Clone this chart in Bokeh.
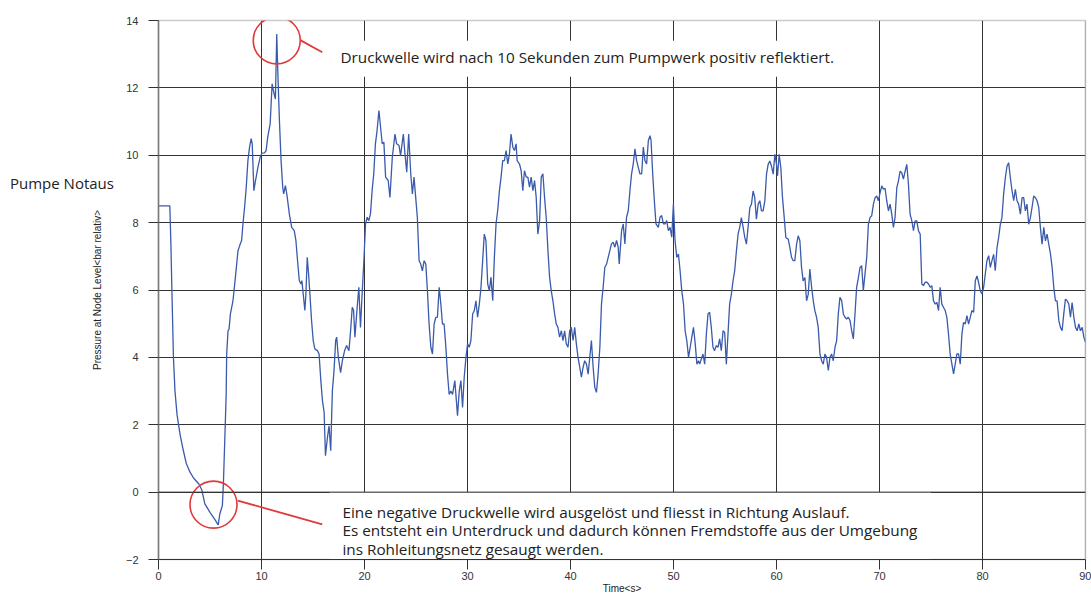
from bokeh.plotting import figure
from bokeh.models import Range1d, FixedTicker, Label, Span, Div
from bokeh.layouts import row
from bokeh.embed import file_html
from bokeh.resources import INLINE

# ---- data ----
time_s = [0, 1.1, 1.2, 1.3, 1.45, 1.6, 1.8, 2.1, 2.4, 2.7, 3.05, 3.4, 3.9, 4.2, 4.5, 5.0, 5.45, 5.8, 5.95,
          6.2, 6.3, 6.45, 6.57, 6.62, 6.75, 6.85, 6.98, 7.23, 7.4, 7.56, 7.72, 7.94, 8.07, 8.2, 8.36, 8.52,
          8.68, 8.84, 9.0, 9.1, 9.26, 9.42, 9.65, 9.87, 10.03, 10.29, 10.45, 10.6, 10.84, 11.03, 11.19,
          11.35, 11.48, 11.58, 11.74, 11.9, 12.06, 12.15, 12.32, 12.48, 12.7, 12.93, 13.18, 13.34, 13.5,
          13.67, 13.83, 13.92, 14.05, 14.21, 14.31, 14.44, 14.57, 14.7, 14.86, 15.02, 15.18, 15.43, 15.59,
          15.76, 15.92, 16.08, 16.21, 16.4, 16.56, 16.72, 16.88, 17.04, 17.2, 17.3, 17.46, 17.68, 17.85,
          18.07, 18.26, 18.49, 18.65, 18.81, 18.94, 19.07, 19.29, 19.45, 19.61, 19.77, 19.94, 20.1, 20.26,
          20.42, 20.58, 20.74, 20.9, 21.06, 21.22, 21.4, 21.72, 21.88, 22.05, 22.3, 22.47, 22.7, 22.96,
          23.12, 23.35, 23.5, 23.77, 23.93, 24.1, 24.29, 24.49, 24.65, 24.81, 24.97, 25.13, 25.3, 25.46,
          25.62, 25.79, 25.95, 26.11, 26.27, 26.44, 26.6, 26.76, 26.92, 27.08, 27.25, 27.41, 27.57, 27.73,
          27.9, 28.06, 28.22, 28.38, 28.55, 28.77, 29.03, 29.2, 29.36, 29.52, 29.68, 29.85, 30.01, 30.17,
          30.33, 30.5, 30.66, 30.82, 30.98, 31.15, 31.31, 31.47, 31.63, 31.79, 31.96, 32.12, 32.28, 32.45,
          32.61, 32.77, 32.93, 33.1, 33.26, 33.42, 33.58, 33.75, 33.91, 34.07, 34.23, 34.4, 34.56, 34.72,
          34.82, 35.05, 35.21, 35.37, 35.53, 35.7, 35.86, 36.02, 36.18, 36.35, 36.51, 36.67, 36.83, 37.0,
          37.16, 37.32, 37.48, 37.64, 37.81, 37.97, 38.13, 38.29, 38.46, 38.62, 38.78, 38.94, 39.11, 39.27,
          39.43, 39.59, 39.76, 39.92, 40.08, 40.25, 40.41, 40.57, 40.73, 40.9, 41.06, 41.22, 41.38, 41.55,
          41.71, 41.87, 42.03, 42.2, 42.36, 42.52, 42.68, 42.85, 43.01, 43.17, 43.33, 43.5, 43.66, 43.82,
          43.98, 44.14, 44.31, 44.47, 44.63, 44.73, 44.96, 45.12, 45.28, 45.44, 45.61, 45.77, 45.93, 46.09,
          46.26, 46.42, 46.58, 46.74, 46.91, 47.07, 47.23, 47.39, 47.56, 47.72, 47.82, 47.98, 48.14, 48.3,
          48.53, 48.69, 48.85, 49.02, 49.18, 49.34, 49.5, 49.67, 49.83, 49.99, 50.15, 50.32, 50.48, 50.64,
          50.8, 50.97, 51.13, 51.29, 51.46, 51.62, 51.78, 51.94, 52.11, 52.27, 52.43, 52.54, 52.86, 53.03,
          53.19, 53.35, 53.51, 53.67, 53.83, 53.99, 54.16, 54.32, 54.48, 54.64, 54.81, 54.97, 55.13, 55.29,
          55.45, 55.62, 55.78, 55.94, 56.11, 56.27, 56.43, 56.59, 56.76, 56.92, 57.08, 57.24, 57.41, 57.57,
          57.73, 57.89, 58.05, 58.22, 58.38, 58.54, 58.7, 58.87, 59.03, 59.19, 59.35, 59.51, 59.68, 59.84,
          60.0, 60.1, 60.26, 60.42, 60.58, 60.75, 60.91, 61.14, 61.3, 61.46, 61.62, 61.78, 61.95, 62.11,
          62.27, 62.43, 62.59, 62.76, 62.92, 63.08, 63.24, 63.41, 63.57, 63.73, 63.89, 64.05, 64.22, 64.38,
          64.54, 64.7, 64.86, 65.03, 65.19, 65.35, 65.51, 65.68, 65.84, 66.0, 66.16, 66.33, 66.49, 66.65,
          66.81, 66.97, 67.14, 67.3, 67.46, 67.62, 67.78, 67.95, 68.11, 68.27, 68.43, 68.59, 68.76, 68.92,
          69.08, 69.24, 69.41, 69.57, 69.73, 69.89, 70.06, 70.22, 70.38, 70.54, 70.7, 70.87, 71.03, 71.19,
          71.35, 71.51, 71.68, 71.84, 72.0, 72.16, 72.32, 72.49, 72.65, 72.81, 72.97, 73.14, 73.3, 73.46,
          73.62, 73.78, 73.95, 74.11, 74.27, 74.43, 74.6, 74.76, 74.92, 75.08, 75.24, 75.41, 75.57, 75.73,
          75.89, 76.05, 76.22, 76.38, 76.54, 76.7, 76.86, 77.03, 77.19, 77.35, 77.51, 77.68, 77.84, 78.0,
          78.16, 78.32, 78.49, 78.65, 78.81, 78.97, 79.14, 79.3, 79.46, 79.62, 79.78, 79.95, 80.11, 80.27,
          80.43, 80.6, 80.76, 80.92, 81.08, 81.24, 81.41, 81.57, 81.73, 81.89, 82.05, 82.22, 82.38, 82.54,
          82.7, 82.87, 83.03, 83.19, 83.35, 83.51, 83.68, 83.84, 84.0, 84.16, 84.32, 84.49, 84.65, 84.81,
          84.97, 85.14, 85.3, 85.46, 85.62, 85.78, 85.95, 86.11, 86.27, 86.43, 86.6, 86.76, 86.92, 87.08,
          87.24, 87.41, 87.57, 87.73, 87.89, 88.05, 88.22, 88.38, 88.54, 88.7, 88.87, 89.03, 89.19, 89.35,
          89.51, 89.68, 89.84, 90.0]

pressure_bar = [8.5, 8.5, 7.4, 6.0, 4.0, 3.0, 2.3, 1.7, 1.25, 0.85, 0.6, 0.42, 0.25, 0.07, -0.35, -0.6, -0.8,
                -0.97, -0.65, -0.4, 0.24, 1.7, 2.9, 4.1, 4.79, 4.84, 5.29, 5.68, 6.18, 6.67, 7.17, 7.37, 7.47,
                7.96, 8.46, 9.05, 9.84, 10.24, 10.49, 10.34, 8.95, 9.25, 9.64, 9.94, 10.06, 10.07, 10.14,
                10.53, 10.93, 12.12, 11.87, 11.67, 13.6, 12.51, 11.03, 9.84, 9.05, 8.85, 9.1, 8.8, 8.26,
                7.86, 7.76, 7.47, 6.87, 6.28, 6.18, 6.28, 5.88, 5.39, 5.88, 6.97, 6.48, 5.88, 5.09, 4.5,
                4.25, 4.2, 4.1, 3.31, 2.71, 2.37, 1.08, 1.62, 1.97, 1.23, 3.0, 3.6, 4.5, 4.6, 4.0, 3.55,
                3.9, 4.2, 4.35, 4.2, 4.79, 5.49, 5.39, 4.6, 5.49, 6.08, 4.89, 5.88, 6.87, 7.96, 8.16, 8.06,
                8.26, 8.95, 9.45, 10.34, 10.73, 11.33, 10.34, 10.39, 9.35, 9.25, 8.75, 9.94, 10.63, 10.34,
                10.29, 9.99, 10.63, 10.04, 9.5, 10.63, 9.45, 8.85, 9.35, 8.75, 8.16, 6.87, 6.77, 6.57, 6.87,
                6.77, 5.98, 4.99, 4.3, 4.1, 4.99, 5.19, 5.19, 6.08, 5.59, 4.99, 4.99, 4.3, 3.5, 2.9, 3.0,
                2.9, 3.31, 2.27, 3.0, 3.31, 2.51, 3.41, 4.0, 4.4, 4.3, 4.5, 5.29, 5.39, 5.68, 5.19, 5.59,
                6.08, 6.87, 7.66, 7.47, 6.18, 5.98, 6.38, 5.68, 6.97, 7.96, 8.36, 8.95, 9.35, 9.84, 9.84,
                10.14, 9.74, 10.04, 10.63, 10.24, 10.14, 10.34, 9.84, 9.74, 9.54, 8.95, 9.54, 9.35, 9.35,
                9.05, 9.35, 8.95, 9.25, 8.75, 7.66, 8.06, 9.35, 9.45, 8.75, 8.16, 7.17, 6.38, 5.98, 5.68,
                5.29, 4.99, 4.89, 4.6, 4.79, 4.5, 4.79, 4.4, 4.3, 4.79, 4.89, 4.5, 4.89, 4.4, 4.0, 3.7,
                3.41, 3.7, 3.9, 3.8, 3.5, 4.0, 4.5, 3.7, 3.11, 2.96, 3.5, 4.3, 5.59, 6.08, 6.67, 6.77, 6.97,
                7.17, 7.37, 7.42, 7.27, 7.47, 7.27, 6.77, 7.76, 7.96, 7.37, 8.16, 8.36, 8.95, 9.45, 9.74,
                10.19, 9.84, 9.64, 9.45, 9.45, 10.24, 9.84, 9.74, 10.44, 10.58, 10.44, 9.45, 8.65, 7.96,
                7.86, 8.16, 8.21, 7.96, 7.96, 8.06, 7.76, 7.86, 7.57, 8.55, 7.47, 6.97, 7.07, 6.57, 5.98,
                5.59, 4.79, 4.5, 4.0, 4.3, 4.6, 4.89, 4.4, 3.8, 3.9, 3.8, 4.1, 3.8, 4.69, 5.29, 5.34, 4.89,
                4.3, 4.2, 4.35, 4.3, 4.55, 4.2, 4.79, 4.74, 3.8, 4.69, 5.58, 5.88, 6.27, 6.57, 7.16, 7.66,
                7.86, 8.15, 7.86, 7.56, 7.36, 7.86, 8.45, 8.55, 8.94, 8.74, 8.1, 8.55, 8.65, 8.35, 8.35,
                8.65, 9.44, 9.73, 9.83, 9.68, 9.44, 10.03, 9.73, 9.39, 10.03, 9.63, 8.75, 8.15, 7.55, 7.51,
                7.26, 6.97, 6.87, 6.87, 7.36, 7.61, 7.46, 6.67, 6.27, 6.37, 5.68, 5.87, 6.62, 6.08, 5.68,
                5.38, 5.19, 4.89, 4.1, 3.9, 3.8, 4.1, 4.0, 3.61, 4.0, 4.1, 3.9, 4.3, 4.5, 5.29, 5.78, 5.68,
                5.29, 5.19, 5.14, 5.19, 5.09, 4.79, 4.55, 5.29, 6.08, 6.37, 6.67, 6.72, 5.98, 6.47, 6.97,
                7.95, 8.15, 8.2, 8.55, 8.74, 8.79, 8.65, 8.89, 9.09, 8.99, 9.02, 8.65, 8.35, 8.55, 8.25,
                7.86, 8.15, 9.04, 9.24, 9.53, 9.48, 9.29, 9.53, 9.73, 9.14, 8.25, 8.05, 7.76, 8.05, 8.05,
                7.76, 7.66, 6.18, 6.13, 6.23, 6.23, 6.18, 6.08, 6.13, 5.68, 5.58, 5.63, 5.39, 6.08, 5.58,
                5.48, 5.39, 5.19, 4.69, 4.1, 3.8, 3.51, 3.8, 4.1, 4.1, 3.8, 4.69, 5.04, 4.99, 5.24, 4.99,
                5.19, 5.39, 5.34, 6.27, 6.42, 6.23, 5.98, 5.88, 6.08, 6.47, 6.87, 7.02, 6.67, 6.87, 7.06,
                6.57, 7.26, 7.56, 7.95, 8.15, 8.84, 9.34, 9.68, 9.78, 9.34, 8.94, 8.65, 8.99, 8.65, 8.55,
                8.25, 8.74, 8.74, 8.35, 8.55, 7.95, 8.15, 8.45, 8.79, 8.74, 8.65, 8.45, 7.86, 7.36, 7.86,
                7.46, 7.66, 7.36, 7.07, 6.67, 6.08, 5.68, 5.68, 5.09, 4.89, 4.79, 5.29, 5.73, 5.68, 5.58,
                5.19, 5.63, 5.19, 4.89, 4.79, 4.99, 4.79, 4.89, 4.6, 4.45]

x_ticks = [0, 10, 20, 30, 40, 50, 60, 70, 80, 90]
y_ticks = [-2, 0, 2, 4, 6, 8, 10, 12, 14]

peak_point = (11.48, 13.6)
low_point = (5.34, -0.37)

text_top = "Druckwelle wird nach 10 Sekunden zum Pumpwerk positiv reflektiert."
text_bottom = ["Eine negative Druckwelle wird ausgelöst und fliesst in Richtung Auslauf.",
               "Es entsteht ein Unterdruck und dadurch können Fremdstoffe aus der Umgebung",
               "ins Rohleitungsnetz gesaugt werden."]
side_text = "Pumpe Notaus"

GRID = "#333333"
RED = "#e03a3a"
BLUE = "#3a5aab"

SIDE_W = 88

p = figure(width=1091 - SIDE_W, height=596, x_range=Range1d(0, 90), y_range=Range1d(-2, 14),
           output_backend="svg", toolbar_location=None, margin=(0, 0, 0, 0),
           min_border_left=158 - SIDE_W, min_border_right=6, min_border_top=20, min_border_bottom=37)
p.background_fill_color = "white"
p.border_fill_color = None
p.outline_line_color = "#cccccc"
p.outline_line_width = 1.5

# grid
p.xgrid.ticker = FixedTicker(ticks=x_ticks[1:-1])
p.ygrid.ticker = FixedTicker(ticks=y_ticks[1:-1])
p.grid.grid_line_color = GRID
p.grid.grid_line_width = 1

# axes
for ax in (p.xaxis[0], p.yaxis[0]):
    ax.major_tick_out = 10
    ax.major_tick_in = 0
    ax.minor_tick_out = 0
    ax.minor_tick_in = 0
    ax.major_tick_line_color = GRID
    ax.major_label_text_font = "Liberation Sans"
    ax.major_label_text_font_size = "11px"
    ax.major_label_text_color = "#333333"
    ax.axis_label_text_font = "Liberation Sans"
    ax.axis_label_text_font_style = "normal"
    ax.axis_label_text_color = "#222222"

p.xaxis.ticker = FixedTicker(ticks=x_ticks)
p.yaxis.ticker = FixedTicker(ticks=y_ticks)
p.xaxis.axis_label = "Time<s>"
p.xaxis.axis_label_text_font_size = "10px"
p.xaxis.axis_label_standoff = 0
p.xaxis.major_label_standoff = 2
p.xaxis.axis_line_color = GRID
p.yaxis.axis_label = "Pressure at Node Level<bar relativ>"
p.yaxis.axis_label_text_font_size = "10px"
p.yaxis.axis_label_standoff = 20
p.yaxis.major_label_standoff = 10
p.yaxis.axis_line_color = "#777777"
p.yaxis.axis_line_width = 1.5

p.add_layout(Span(location=90, dimension="height", line_color="#999999", line_width=1.2))

# white boxes behind the annotations
p.quad(left=[16.6], right=[75.0], bottom=[-2.0], top=[0.0], fill_color="white", line_color=None)
p.quad(left=[16.6], right=[66.0], bottom=[12.33], top=[13.4], fill_color="white", line_color=None)
p.add_layout(Span(location=0, dimension="width", line_color=GRID, line_width=1))

# curve
p.line(time_s, pressure_bar, line_color=BLUE, line_width=1.3)

# red circles and connectors
p.scatter([peak_point[0]], [peak_point[1] - 0.19], size=47, marker="circle",
          fill_color=None, line_color=RED, line_width=1.6)
p.scatter([low_point[0]], [low_point[1]], size=47, marker="circle",
          fill_color=None, line_color=RED, line_width=1.6)
p.segment(x0=[13.81, 7.7], y0=[13.41, -0.25], x1=[15.9, 15.9], y1=[13.06, -0.96],
          line_color=RED, line_width=1.8)

# texts
p.add_layout(Label(x=17.67, y=12.93, text=text_top, text_font="Open Sans", text_font_size="15.3px",
                   text_baseline="middle", text_color="#222222"))
for i, line in enumerate(text_bottom):
    p.add_layout(Label(x=17.86, y=-0.58 - 0.55 * i, text=line, text_font="Open Sans",
                       text_font_size="15.3px", text_baseline="middle", text_color="#222222"))

side_html = ('<div style="position:absolute; left:10px; top:173px; white-space:nowrap; '
             'font-family:\'Open Sans\'; font-size:15px; line-height:20px; color:#222222; '
             'z-index:5;">' + side_text + '</div>')
side = Div(text=side_html, width=SIDE_W, height=596, margin=(0, 0, 0, 0),
           styles={"overflow": "visible", "z-index": "5"})

layout = row(side, p, spacing=0)

open("out.html", "w").write(file_html(layout, INLINE))
